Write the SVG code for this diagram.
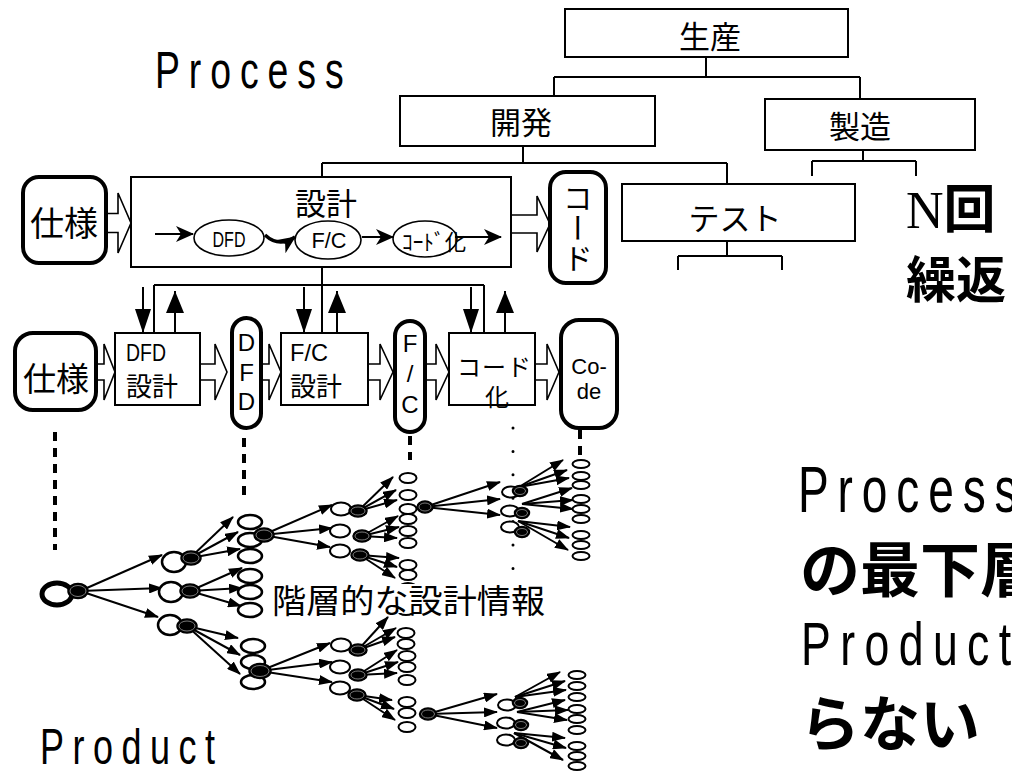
<svg xmlns="http://www.w3.org/2000/svg" width="1012" height="775" viewBox="0 0 1012 775">
<defs>
<style>
.bx{fill:#fff;stroke:#000;stroke-width:2}
.rb{fill:#fff;stroke:#000;stroke-width:4}
.ln{fill:none;stroke:#000;stroke-width:2}
.ba{fill:#fff;stroke:#000;stroke-width:1.6}
.ar{fill:none;stroke:#000;stroke-width:2;marker-end:url(#ah)}
.dash{fill:none;stroke:#000;stroke-width:4;stroke-dasharray:9 7}
.w{fill:#fff;stroke:#000;stroke-width:2.5}
.w2{fill:#fff;stroke:#000;stroke-width:2}
.k{fill:#000;stroke:#000;stroke-width:1.5}
.ki{fill:none;stroke:#999;stroke-width:0.8}
.j{font-family:"Noto Sans CJK JP",sans-serif;fill:#000}
.l{font-family:"Liberation Sans","Noto Sans CJK JP",sans-serif;fill:#000}
.c{dominant-baseline:central;text-anchor:middle}
.s{dominant-baseline:central}
</style>
<marker id="ah" markerUnits="userSpaceOnUse" markerWidth="14" markerHeight="10" refX="13" refY="5" orient="auto"><path d="M0,0 L14,5 L0,10 z"/></marker>
<marker id="st" markerUnits="userSpaceOnUse" markerWidth="18" markerHeight="16" refX="17" refY="8" orient="auto"><path d="M0,0 L18,8 L0,16 L5,8 z"/></marker>
<marker id="dn" markerUnits="userSpaceOnUse" markerWidth="24" markerHeight="16" refX="24" refY="8" orient="auto"><path d="M0,0 L24,8 L0,16 z"/></marker>
<marker id="up" markerUnits="userSpaceOnUse" markerWidth="22" markerHeight="18" refX="22" refY="9" orient="auto"><path d="M0,0 L22,9 L0,18 z"/></marker>
</defs>
<rect width="1012" height="775" fill="#fff"/>

<!-- titles -->
<text class="l" transform="translate(155,88) scale(0.72,1)" font-size="52" textLength="262" lengthAdjust="spacing">Process</text>
<text class="l" transform="translate(40,764) scale(0.72,1)" font-size="50" textLength="243" lengthAdjust="spacing">Product</text>
<text x="906" y="228" font-size="52"><tspan font-family="Liberation Serif, serif">N</tspan><tspan class="j" font-weight="bold">回</tspan></text>
<text class="j s" x="906" y="276" font-size="50" font-weight="bold">繰返</text>
<text class="l" transform="translate(798,512) scale(0.72,1)" font-size="64" textLength="305" lengthAdjust="spacing">Process</text>
<text class="j s" x="800" y="565" font-size="60" font-weight="bold">の最下層</text>
<text class="l" transform="translate(801,665) scale(0.72,1)" font-size="62" textLength="292" lengthAdjust="spacing">Product</text>
<text class="j s" x="800" y="719" font-size="60" font-weight="bold">らない</text>

<!-- connectors -->
<g id="connectors">
<path class="ln" d="M706,57 V77 M554,77 H860 M554,77 V96 M860,77 V99 M523,146 V163 M322,163 H727 M322,163 V177 M727,163 V184 M863,150 V161 M812,161 H916 M812,161 V176 M916,161 V176 M727,241 V256 M678,256 H782 M678,256 V270 M782,256 V270 M322,267 V333 M154,285 H484 M154,285 V333 M484,285 V333"/>
<polygon class="ba" points="106,213.5 118,213.5 118,193 131,223 118,253 118,232.5 106,232.5"/>
<polygon class="ba" points="511,215 537,215 537,196 550,224 537,252 537,233 511,233"/>
<polygon class="ba" points="96,364 104,364 104,344 115,372 104,400 104,380 96,380"/>
<polygon class="ba" points="200,364 215,364 215,344 227,372 215,400 215,380 200,380"/>
<polygon class="ba" points="261,364 269,364 269,344 281,372 269,400 269,380 261,380"/>
<polygon class="ba" points="368,364 380,364 380,344 393,372 380,400 380,380 368,380"/>
<polygon class="ba" points="425,364 436,364 436,344 449,372 436,400 436,380 425,380"/>
<polygon class="ba" points="535,364 547,364 547,344 559,372 547,400 547,380 535,380"/>
<path class="ln" d="M143,287 V333" marker-end="url(#dn)"/>
<path class="ln" d="M304,287 V333" marker-end="url(#dn)"/>
<path class="ln" d="M471,287 V333" marker-end="url(#dn)"/>
<path class="ln" d="M175,333 V291" marker-end="url(#up)"/>
<path class="ln" d="M337,333 V291" marker-end="url(#up)"/>
<path class="ln" d="M505,333 V291" marker-end="url(#up)"/>
<path class="dash" d="M55,432 V550 M244,438 V497 M410,436 V460 M580,430 V458"/>
<path fill="none" stroke="#000" stroke-width="3" stroke-linecap="round" stroke-dasharray="0 23.4" d="M513,428 V570"/>
<!-- tree arrows -->
<path class="ar" d="M80,591 L162,555"/><path class="ar" d="M80,591 L162,588"/><path class="ar" d="M80,591 L158,617"/>
<path class="ar" d="M190,558 L233,517"/><path class="ar" d="M190,558 L238,532"/><path class="ar" d="M190,558 L240,549"/>
<path class="ar" d="M190,591 L242,568"/><path class="ar" d="M190,591 L242,588"/><path class="ar" d="M190,591 L241,606"/>
<path class="ar" d="M187,626 L238,638"/><path class="ar" d="M187,626 L240,655"/><path class="ar" d="M187,626 L240,674"/>
<path class="ar" d="M263,535 L332,505"/><path class="ar" d="M263,535 L332,528"/><path class="ar" d="M263,535 L330,547"/>
<path class="ar" d="M260,671 L330,643"/><path class="ar" d="M260,671 L332,662"/><path class="ar" d="M260,671 L332,682"/>
<path class="ar" d="M358,511 L393,477"/><path class="ar" d="M358,511 L396,490"/><path class="ar" d="M358,511 L397,500"/>
<path class="ar" d="M362,536 L398,516"/><path class="ar" d="M362,536 L399,527"/><path class="ar" d="M362,536 L397,538"/>
<path class="ar" d="M360,555 L399,558"/><path class="ar" d="M360,555 L397,567"/><path class="ar" d="M360,555 L395,578"/>
<path class="ar" d="M425,507 L500,482"/><path class="ar" d="M425,507 L500,499"/><path class="ar" d="M425,507 L500,515"/>
<path class="ar" d="M519,487 L563,460"/><path class="ar" d="M519,487 L567,470"/><path class="ar" d="M519,487 L569,478"/>
<path class="ar" d="M522,504 L572,488"/><path class="ar" d="M522,504 L573,500"/><path class="ar" d="M522,504 L573,509"/>
<path class="ar" d="M518,521 L570,527"/><path class="ar" d="M518,521 L569,538"/><path class="ar" d="M518,521 L568,550"/>
<path class="ar" d="M358,650 L388,617"/><path class="ar" d="M358,650 L396,628"/><path class="ar" d="M358,650 L395,637"/>
<path class="ar" d="M358,675 L397,650"/><path class="ar" d="M358,675 L398,662"/><path class="ar" d="M358,675 L397,673"/>
<path class="ar" d="M357,695 L392,700"/><path class="ar" d="M357,695 L394,709"/><path class="ar" d="M357,695 L395,720"/>
<path class="ar" d="M428,714 L497,694"/><path class="ar" d="M428,714 L497,712"/><path class="ar" d="M428,714 L497,728"/>
<path class="ar" d="M515,697 L560,672"/><path class="ar" d="M515,697 L565,681"/><path class="ar" d="M515,697 L566,690"/>
<path class="ar" d="M517,712 L565,700"/><path class="ar" d="M517,712 L568,710"/><path class="ar" d="M517,712 L567,720"/>
<path class="ar" d="M514,733 L565,738"/><path class="ar" d="M514,733 L566,748"/><path class="ar" d="M514,733 L563,760"/>
</g>

<!-- process hierarchy nodes -->
<g id="n-seisan"><rect class="bx" x="565" y="9" width="283" height="48"/><text class="j c" x="710" y="34" font-size="31">生産</text></g>
<g id="n-kaihatsu"><rect class="bx" x="400" y="96" width="255" height="50"/><text class="j c" x="521" y="120" font-size="31">開発</text></g>
<g id="n-seizo"><rect class="bx" x="765" y="99" width="210" height="51"/><text class="j c" x="860" y="124" font-size="31">製造</text></g>
<g id="n-test"><rect class="bx" x="622" y="184" width="233" height="57"/><text class="j c" x="735" y="216" font-size="31">テスト</text></g>
<g id="n-shiyou1"><rect class="rb" x="23" y="177" width="83" height="86" rx="16"/><text class="j c" x="64" y="221" font-size="34">仕様</text></g>
<g id="n-sekkei">
<rect class="bx" x="131" y="177" width="380" height="90"/>
<text class="j c" x="326" y="201" font-size="31">設計</text>
<ellipse cx="229" cy="238" rx="35" ry="18" fill="#fff" stroke="#000" stroke-width="1.6"/>
<ellipse cx="328" cy="240" rx="33" ry="19" fill="#fff" stroke="#000" stroke-width="1.6"/>
<ellipse cx="425" cy="239" rx="32" ry="18" fill="#fff" stroke="#000" stroke-width="1.6"/>
<path fill="none" stroke="#000" stroke-width="2" d="M155,234 L193,234" marker-end="url(#st)"/>
<path fill="none" stroke="#000" stroke-width="3.5" d="M265,235 Q279,248 295,237" marker-end="url(#st)"/>
<path fill="none" stroke="#000" stroke-width="2" d="M362,237 L393,237" marker-end="url(#st)"/>
<path fill="none" stroke="#000" stroke-width="2" d="M455,237 L501,237" marker-end="url(#st)"/>
<text class="l c" x="229" y="239" font-size="22" textLength="33" lengthAdjust="spacingAndGlyphs">DFD</text>
<text class="l c" x="329" y="240" font-size="22" textLength="35" lengthAdjust="spacingAndGlyphs">F/C</text>
<text class="j s" x="402" y="240" font-size="22" textLength="64" lengthAdjust="spacingAndGlyphs">ｺｰﾄﾞ化</text>
</g>
<g id="n-code1"><rect class="rb" x="550" y="172" width="56" height="111" rx="16"/><text class="j" x="578" y="183" font-size="30" writing-mode="vertical-rl">コード</text></g>

<g id="n-shiyou2"><rect class="rb" x="15" y="333" width="81" height="77" rx="18"/><text class="j c" x="56" y="377" font-size="33">仕様</text></g>
<g id="n-dfdsekkei"><rect class="bx" x="115" y="333" width="85" height="72"/><text class="l s" x="126" y="352" font-size="24" textLength="40" lengthAdjust="spacingAndGlyphs">DFD</text><text class="j s" x="126" y="384" font-size="26">設計</text></g>
<g id="n-dfd"><rect class="rb" x="232" y="318" width="29" height="110" rx="14.5"/><text class="l c" x="246.5" y="342" font-size="24">D</text><text class="l c" x="246.5" y="372" font-size="24">F</text><text class="l c" x="246.5" y="401" font-size="24">D</text></g>
<g id="n-fcsekkei"><rect class="bx" x="281" y="333" width="87" height="72"/><text class="l s" x="290" y="352" font-size="24" textLength="38" lengthAdjust="spacingAndGlyphs">F/C</text><text class="j s" x="290" y="384" font-size="26">設計</text></g>
<g id="n-fc"><rect class="rb" x="395" y="321" width="30" height="111" rx="15"/><text class="l c" x="410" y="343" font-size="24">F</text><text class="l c" x="410" y="373" font-size="24">/</text><text class="l c" x="410" y="404" font-size="24">C</text></g>
<g id="n-codeka"><rect class="bx" x="449" y="333" width="86" height="72"/><text class="j s" x="457" y="365" font-size="24" textLength="74" lengthAdjust="spacing">コード</text><text class="j c" x="497" y="395" font-size="24">化</text></g>
<g id="n-code2"><rect class="rb" x="561" y="320" width="56" height="108" rx="18"/><text class="l c" x="589" y="366" font-size="22">Co-</text><text class="l c" x="589" y="391" font-size="22">de</text></g>

<!-- product tree -->
<g id="t-root"><ellipse cx="57" cy="594" rx="15" ry="11" fill="#fff" stroke="#000" stroke-width="5"/><ellipse class="k" cx="78" cy="591" rx="10" ry="7.5"/><ellipse class="ki" cx="78" cy="591" rx="8" ry="5.5"/></g>
<g id="t-l1a"><ellipse class="w" cx="174" cy="562" rx="12" ry="10"/><ellipse class="k" cx="191" cy="558" rx="10" ry="7"/><ellipse class="ki" cx="191" cy="558" rx="8" ry="5"/></g>
<g id="t-l1b"><ellipse class="w" cx="171" cy="592" rx="12" ry="10"/><ellipse class="k" cx="190" cy="591" rx="10" ry="7"/><ellipse class="ki" cx="190" cy="591" rx="8" ry="5"/></g>
<g id="t-l1c"><ellipse class="w" cx="170" cy="625" rx="12" ry="10"/><ellipse class="k" cx="187" cy="626" rx="10" ry="7"/><ellipse class="ki" cx="187" cy="626" rx="8" ry="5"/></g>
<g id="t-l2-leaves">
<ellipse class="w" cx="250" cy="522" rx="12" ry="7"/><ellipse class="w" cx="250" cy="540" rx="12" ry="7"/><ellipse class="w" cx="250" cy="556" rx="12" ry="7"/>
<ellipse class="w" cx="250" cy="576" rx="12" ry="7"/><ellipse class="w" cx="250" cy="592" rx="12" ry="7"/><ellipse class="w" cx="250" cy="610" rx="12" ry="7"/>
<ellipse class="w" cx="253" cy="646" rx="12" ry="7"/><ellipse class="w" cx="253" cy="662" rx="12" ry="7"/><ellipse class="w" cx="253" cy="682" rx="12" ry="7"/>
</g>
<g id="t-l2u"><ellipse class="k" cx="264" cy="535" rx="10" ry="7"/><ellipse class="ki" cx="264" cy="535" rx="8" ry="5"/></g>
<g id="t-l2l"><ellipse class="k" cx="260" cy="671" rx="11" ry="7.5"/><ellipse class="ki" cx="260" cy="671" rx="9" ry="5.5"/></g>
<g id="t-l3">
<ellipse class="w2" cx="341" cy="509" rx="10" ry="6.5"/><ellipse class="k" cx="358" cy="511" rx="9" ry="6"/><ellipse class="ki" cx="358" cy="511" rx="7" ry="4"/>
<ellipse class="w2" cx="340" cy="531" rx="10" ry="6.5"/><ellipse class="k" cx="362" cy="536" rx="9" ry="6"/><ellipse class="ki" cx="362" cy="536" rx="7" ry="4"/>
<ellipse class="w2" cx="340" cy="551" rx="10" ry="6.5"/><ellipse class="k" cx="360" cy="555" rx="9" ry="6"/><ellipse class="ki" cx="360" cy="555" rx="7" ry="4"/>
<ellipse class="w2" cx="341" cy="645" rx="10" ry="6.5"/><ellipse class="k" cx="358" cy="650" rx="9" ry="6"/><ellipse class="ki" cx="358" cy="650" rx="7" ry="4"/>
<ellipse class="w2" cx="340" cy="667" rx="10" ry="6.5"/><ellipse class="k" cx="358" cy="675" rx="9" ry="6"/><ellipse class="ki" cx="358" cy="675" rx="7" ry="4"/>
<ellipse class="w2" cx="340" cy="688" rx="10" ry="6.5"/><ellipse class="k" cx="357" cy="695" rx="9" ry="6"/><ellipse class="ki" cx="357" cy="695" rx="7" ry="4"/>
</g>
<g id="t-l4-leaves">
<ellipse class="w2" cx="408" cy="478" rx="8.5" ry="5"/><ellipse class="w2" cx="408" cy="495" rx="8.5" ry="5"/><ellipse class="w2" cx="408" cy="509" rx="8.5" ry="5"/>
<ellipse class="w2" cx="408" cy="519" rx="8.5" ry="5"/><ellipse class="w2" cx="408" cy="531" rx="8.5" ry="5"/><ellipse class="w2" cx="408" cy="543" rx="8.5" ry="5"/>
<ellipse class="w2" cx="408" cy="565" rx="8.5" ry="5"/><ellipse class="w2" cx="408" cy="575" rx="8.5" ry="5"/><ellipse class="w2" cx="408" cy="588" rx="8.5" ry="5"/>
<ellipse class="w2" cx="406" cy="610" rx="8.5" ry="5"/><ellipse class="w2" cx="406" cy="633" rx="8.5" ry="5"/><ellipse class="w2" cx="406" cy="644" rx="8.5" ry="5"/>
<ellipse class="w2" cx="407" cy="656" rx="8.5" ry="5"/><ellipse class="w2" cx="407" cy="667" rx="8.5" ry="5"/><ellipse class="w2" cx="407" cy="680" rx="8.5" ry="5"/>
<ellipse class="w2" cx="407" cy="702" rx="8.5" ry="5"/><ellipse class="w2" cx="407" cy="713" rx="8.5" ry="5"/><ellipse class="w2" cx="407" cy="727" rx="8.5" ry="5"/>
</g>
<g id="t-l4u"><ellipse class="k" cx="425" cy="507" rx="8" ry="6"/><ellipse class="ki" cx="425" cy="507" rx="6" ry="4"/></g>
<g id="t-l4l"><ellipse class="k" cx="428" cy="714" rx="8.5" ry="6"/><ellipse class="ki" cx="428" cy="714" rx="6.5" ry="4"/></g>
<g id="t-l5">
<ellipse class="w2" cx="511" cy="492" rx="9" ry="5.5"/><ellipse class="k" cx="520" cy="491" rx="7.5" ry="5.5"/><ellipse class="ki" cx="520" cy="491" rx="5.5" ry="3.5"/>
<ellipse class="w2" cx="510" cy="511" rx="9" ry="5.5"/><ellipse class="k" cx="522" cy="513" rx="7.5" ry="5.5"/><ellipse class="ki" cx="522" cy="513" rx="5.5" ry="3.5"/>
<ellipse class="w2" cx="510" cy="527" rx="9" ry="5.5"/><ellipse class="k" cx="522" cy="532" rx="7.5" ry="5.5"/><ellipse class="ki" cx="522" cy="532" rx="5.5" ry="3.5"/>
<ellipse class="w2" cx="507" cy="705" rx="9" ry="5.5"/><ellipse class="k" cx="520" cy="703" rx="7.5" ry="5.5"/><ellipse class="ki" cx="520" cy="703" rx="5.5" ry="3.5"/>
<ellipse class="w2" cx="506" cy="723" rx="9" ry="5.5"/><ellipse class="k" cx="521" cy="725" rx="7.5" ry="5.5"/><ellipse class="ki" cx="521" cy="725" rx="5.5" ry="3.5"/>
<ellipse class="w2" cx="506" cy="740" rx="9" ry="5.5"/><ellipse class="k" cx="521" cy="743" rx="7.5" ry="5.5"/><ellipse class="ki" cx="521" cy="743" rx="5.5" ry="3.5"/>
</g>
<g id="t-l6-leaves">
<ellipse class="w2" cx="581" cy="464" rx="8.5" ry="4"/><ellipse class="w2" cx="581" cy="476" rx="8.5" ry="4"/><ellipse class="w2" cx="581" cy="485" rx="8.5" ry="4"/>
<ellipse class="w2" cx="581" cy="499" rx="8.5" ry="4"/><ellipse class="w2" cx="581" cy="509" rx="8.5" ry="4"/><ellipse class="w2" cx="581" cy="519" rx="8.5" ry="4"/>
<ellipse class="w2" cx="581" cy="535" rx="8.5" ry="4"/><ellipse class="w2" cx="581" cy="545" rx="8.5" ry="4"/><ellipse class="w2" cx="581" cy="556" rx="8.5" ry="4"/>
<ellipse class="w2" cx="577" cy="675" rx="8.5" ry="4"/><ellipse class="w2" cx="577" cy="686" rx="8.5" ry="4"/><ellipse class="w2" cx="577" cy="697" rx="8.5" ry="4"/>
<ellipse class="w2" cx="577" cy="709" rx="8.5" ry="4"/><ellipse class="w2" cx="577" cy="719" rx="8.5" ry="4"/><ellipse class="w2" cx="577" cy="730" rx="8.5" ry="4"/>
<ellipse class="w2" cx="577" cy="746" rx="8.5" ry="4"/><ellipse class="w2" cx="577" cy="756" rx="8.5" ry="4"/><ellipse class="w2" cx="577" cy="766" rx="8.5" ry="4"/>
</g>
<g id="t-label"><rect x="268" y="584" width="282" height="29" fill="#fff"/><text class="j s" x="272" y="599" font-size="33" textLength="273" lengthAdjust="spacingAndGlyphs">階層的な設計情報</text></g>
</svg>
